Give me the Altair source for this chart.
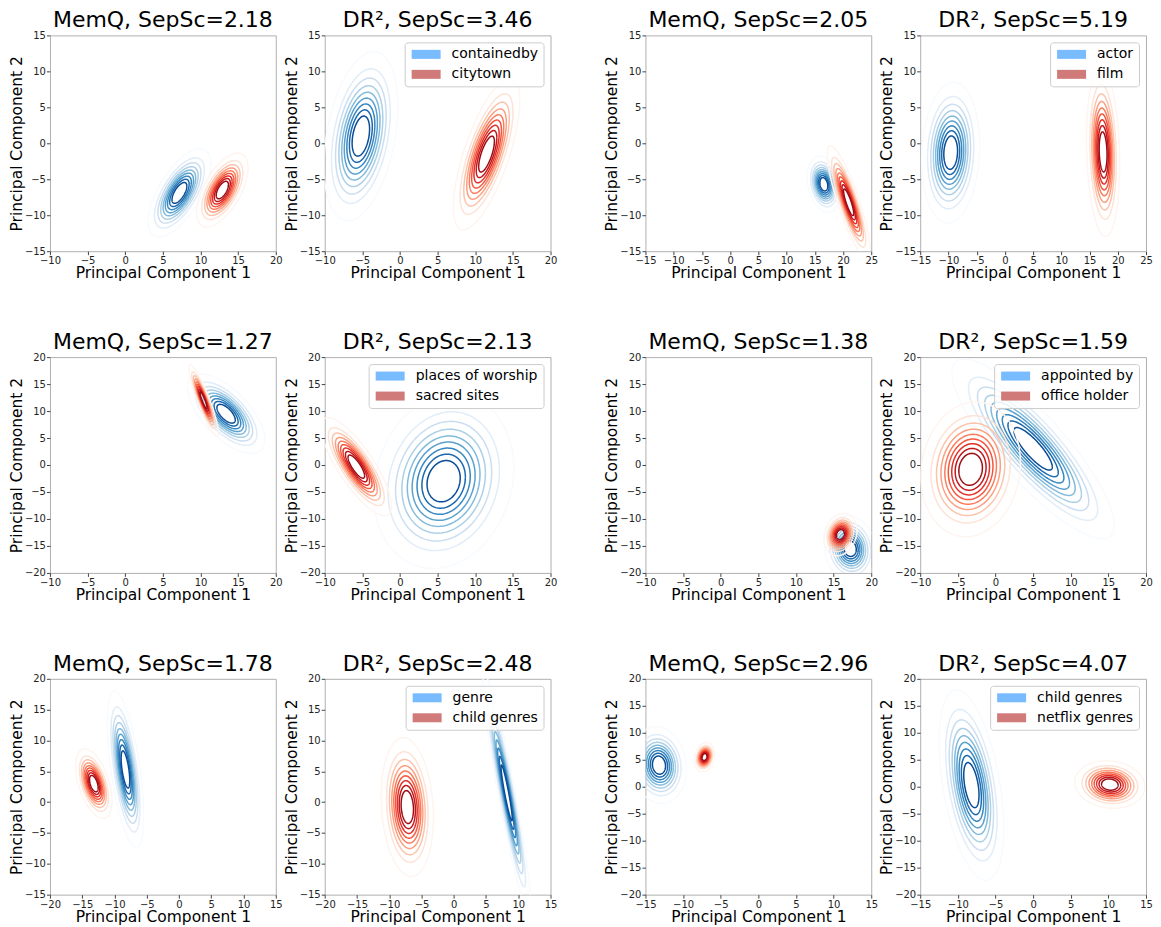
import numpy as np
import pandas as pd
import altair as alt

# ---------------- data ----------------
TITLES = ["MemQ, SepSc=2.18", "DR\u00b2, SepSc=3.46", "MemQ, SepSc=2.05", "DR\u00b2, SepSc=5.19",
          "MemQ, SepSc=1.27", "DR\u00b2, SepSc=2.13", "MemQ, SepSc=1.38", "DR\u00b2, SepSc=1.59",
          "MemQ, SepSc=1.78", "DR\u00b2, SepSc=2.48", "MemQ, SepSc=2.96", "DR\u00b2, SepSc=4.07"]

X_DOMAINS = [[-10, 20], [-10, 20], [-15, 25], [-15, 25],
             [-10, 20], [-10, 20], [-10, 20], [-10, 20],
             [-20, 15], [-20, 15], [-15, 15], [-15, 15]]
Y_DOMAINS = [[-15, 15], [-15, 15], [-15, 15], [-15, 15],
             [-20, 20], [-20, 20], [-20, 20], [-20, 20],
             [-15, 20], [-15, 20], [-20, 20], [-20, 20]]

LEGENDS = {1: ["containedby", "citytown"], 3: ["actor", "film"],
           5: ["places of worship", "sacred sites"], 7: ["appointed by", "office holder"],
           9: ["genre", "child genres"], 11: ["child genres", "netflix genres"]}

# blue cluster (first class) per panel: centre, spread, correlation
BLUE_CX = [7.2, -5.2, 16.6, -9.6, 13.4, 5.8, 17.2, 5.0, -8.3, 8.2, -13.2, -8.2]
BLUE_CY = [-6.9, 1.0, -5.7, -1.3, 9.5, -3.0, -15.5, 3.0, 5.3, 1.5, 4.0, 0.3]
BLUE_SX = [1.7, 2.0, 1.2, 2.1, 2.1, 3.8, 1.4, 4.4, 1.15, 1.5, 1.5, 1.75]
BLUE_SY = [2.5, 4.8, 1.6, 4.0, 3.0, 6.6, 2.5, 6.8, 5.2, 7.8, 2.9, 7.2]
BLUE_RHO = [0.65, 0.35, -0.25, 0.1, -0.65, 0.15, -0.1, -0.85, -0.6, -0.93, -0.1, -0.45]

# red cluster (second class) per panel
RED_CX = [12.9, 11.5, 21.0, 17.4, 10.4, -5.8, 15.9, -3.3, -13.2, -7.2, -7.15, 10.2]
RED_CY = [-6.5, -1.5, -8.2, -1.2, 12.0, -0.3, -12.9, -0.8, 3.0, -0.8, 5.5, 0.4]
RED_SX = [1.4, 1.8, 1.55, 1.2, 0.8, 1.9, 0.9, 2.7, 1.15, 1.65, 0.55, 1.9]
RED_SY = [2.1, 4.3, 3.2, 4.8, 2.7, 3.7, 1.6, 5.1, 2.3, 4.6, 1.1, 1.8]
RED_RHO = [0.6, 0.7, -0.85, -0.15, -0.9, -0.8, 0.2, 0.1, -0.5, -0.15, 0.2, -0.1]

# contour levels (radius in spread units), outermost first
LEVELS = [2.45, 1.95, 1.68, 1.46, 1.27, 1.1, 0.93, 0.76, 0.58]

# line colours per level (Blues / Reds colormaps), outermost first
BLUES = ["#f7fbff", "#e1edf8", "#cbdef1", "#abd0e6", "#82bbdb", "#59a1cf", "#3787c0", "#1b6aaf", "#084d96"]
REDS = ["#fff5f0", "#fee3d6", "#fcc3ab", "#fc9f81", "#fb7c5c", "#f5553c", "#e32f27", "#c2161b", "#9e0d14"]
PATCH = ["#78bcff", "#d17a7a"]

FONT = "DejaVu Sans"
THETA = np.linspace(0, 2 * np.pi, 121)
W, H = 226, 216


def contour_frame(p):
    rows = []
    specs = [(0, BLUE_CX[p], BLUE_CY[p], BLUE_SX[p], BLUE_SY[p], BLUE_RHO[p], BLUES),
             (1, RED_CX[p], RED_CY[p], RED_SX[p], RED_SY[p], RED_RHO[p], REDS)]
    for cls, cx, cy, sx, sy, rho, cols in specs:
        for k, r in enumerate(LEVELS):
            xs = cx + r * sx * np.cos(THETA)
            ys = cy + r * sy * (rho * np.cos(THETA) + np.sqrt(1 - rho ** 2) * np.sin(THETA))
            for i, (xv, yv) in enumerate(zip(xs, ys)):
                rows.append({"x": xv, "y": yv, "key": f"{cls}{k}", "i": i, "col": cols[k]})
    return pd.DataFrame(rows)


def ticks(dom):
    return list(range(dom[0], dom[1] + 1, 5))


def panel(p):
    df = contour_frame(p)
    xs = alt.Scale(domain=X_DOMAINS[p], nice=False, zero=False)
    ys = alt.Scale(domain=Y_DOMAINS[p], nice=False, zero=False)
    lines = alt.Chart(df).mark_line(clip=True, strokeWidth=1.5).encode(
        x=alt.X("x:Q", scale=xs, axis=alt.Axis(values=ticks(X_DOMAINS[p]), title="Principal Component 1")),
        y=alt.Y("y:Q", scale=ys, axis=alt.Axis(values=ticks(Y_DOMAINS[p]), title="Principal Component 2")),
        detail="key:N",
        order="i:Q",
        stroke=alt.Stroke("col:N", scale=None),
    )
    layers = [lines]
    if p in LEGENDS:
        labels = LEGENDS[p]
        leg = alt.Chart(pd.DataFrame({"label": labels})).mark_point(
            filled=True, opacity=0, size=1
        ).encode(
            x=alt.value(5), y=alt.value(5),
            fill=alt.Fill("label:N", scale=alt.Scale(domain=labels, range=PATCH),
                          legend=alt.Legend(
                              title=None, orient="top-right", offset=7, padding=5,
                              strokeColor="#cccccc", fillColor="rgba(255,255,255,0.8)",
                              cornerRadius=3, labelFont=FONT, labelFontSize=14, labelColor="#000000",
                              symbolType="M-1,-0.9H4.8V0.9H-1Z", symbolSize=100,
                              symbolOpacity=1, symbolStrokeWidth=0, labelOffset=28,
                              rowPadding=6, labelLimit=300)),
        )
        layers.append(leg)
    ch = alt.layer(*layers).resolve_scale(fill="independent")
    return ch.properties(
        width=W, height=H,
        title=alt.TitleParams(TITLES[p], fontSize=22, font=FONT, fontWeight="normal",
                              color="#000000", offset=-2),
    )


def indep(c):
    return c.resolve_scale(x="independent", y="independent", fill="independent").resolve_legend(fill="independent")


rows = []
for r in range(3):
    b = r * 4
    left = indep(alt.hconcat(panel(b), panel(b + 1), spacing=0))
    right = indep(alt.hconcat(panel(b + 2), panel(b + 3), spacing=0))
    rows.append(indep(alt.hconcat(left, right, spacing=46)))

chart = indep(alt.vconcat(*rows, spacing=48)).properties(
    padding={"left": 0, "top": 0, "right": 0, "bottom": 0}
).configure_axis(
    labelFont=FONT, labelFontSize=10, labelColor="#222222",
    titleFont=FONT, titleFontSize=15.5, titleFontWeight="normal", titleColor="#000000",
    domain=False, grid=False, tickSize=3.5, tickColor="#444444",
    labelFlush=False, labelOverlap=False, labelPadding=1, titlePadding=0,
).configure_view(stroke="#b0b0b0", strokeWidth=1)

chart.save("out.html", embed_options={"renderer": "svg", "actions": False})
